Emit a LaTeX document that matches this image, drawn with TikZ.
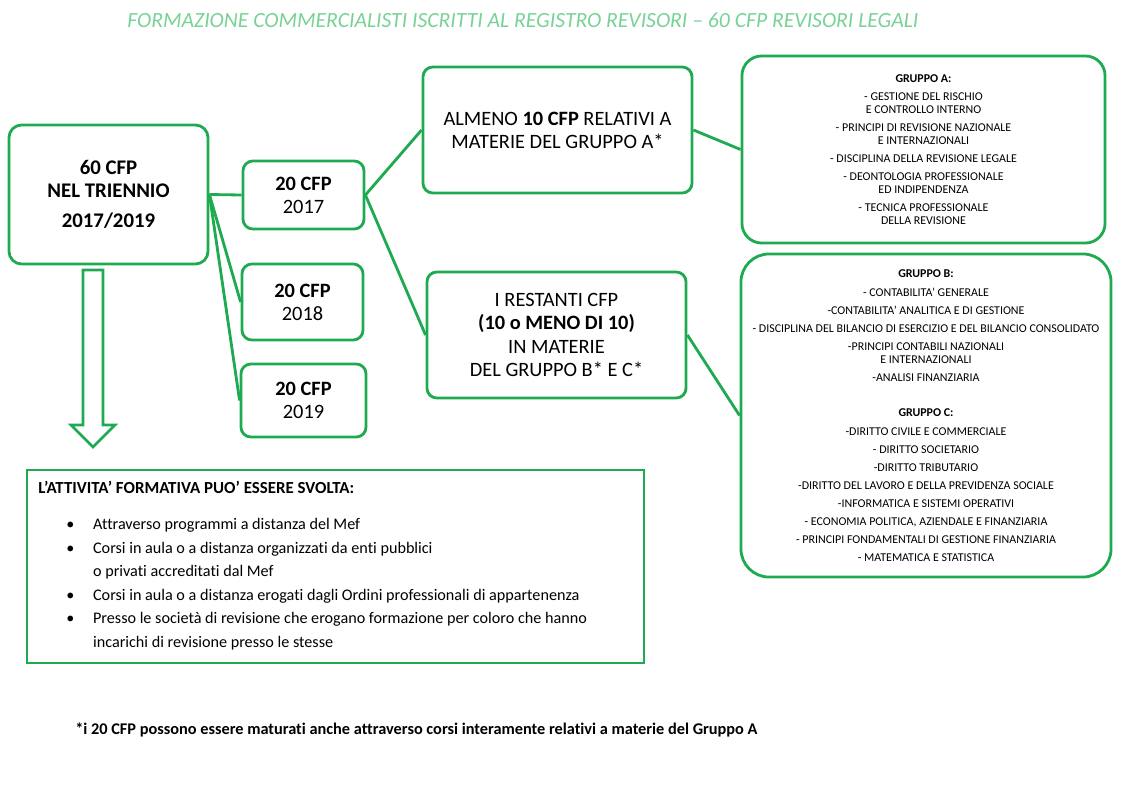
\documentclass[tikz,border=0pt]{standalone}
\usepackage{fontspec}
\setmainfont{Carlito}[Ligatures={TeX,NoCommon}]
\usetikzlibrary{positioning}

\definecolor{verde}{RGB}{30,170,80}
\definecolor{menta}{RGB}{120,210,150}

\begin{document}
\begin{tikzpicture}[
    x=0.025cm, y=-0.025cm,
    box/.style={rectangle, draw=verde, line width=2pt, rounded corners=7pt, align=center, inner sep=0pt},
    anno/.style={box, font=\fontsize{14.5}{16.5}\selectfont},
    lista/.style={box, font=\fontsize{8.5}{9.25}\selectfont},
    link/.style={draw=verde, line width=2pt}
]
\useasboundingbox (0,0) rectangle (1126,784);

% title
\node[font=\fontsize{15.4}{17}\selectfont\itshape, text=menta] (titolo) at (523,20)
    {FORMAZIONE COMMERCIALISTI ISCRITTI AL REGISTRO REVISORI -- 60 CFP REVISORI LEGALI};

% triennio
\node[box, rounded corners=9pt, minimum width=4.975cm, minimum height=3.475cm,
      font=\fontsize{14.8}{16.4}\selectfont\bfseries] (tri) at (108.5,194.5)
    {60 CFP\\ NEL TRIENNIO\\[5pt] 2017/2019};

% annual boxes
\node[anno, minimum width=3.025cm, minimum height=1.7cm] (a17) at (303.5,195)
    {\textbf{20 CFP}\\ 2017};
\node[anno, minimum width=3.025cm, minimum height=1.9cm] (a18) at (302.5,302)
    {\textbf{20 CFP}\\ 2018};
\node[anno, minimum width=3.125cm, minimum height=1.825cm] (a19) at (303.5,400.5)
    {\textbf{20 CFP}\\ 2019};

% split of the 20 CFP
\node[anno, minimum width=6.725cm, minimum height=3.15cm] (almeno) at (557.5,130)
    {ALMENO \textbf{10 CFP} RELATIVI A\\ MATERIE DEL GRUPPO A*};
\node[anno, minimum width=6.475cm, minimum height=3.15cm] (restanti) at (556.5,335)
    {I RESTANTI CFP\\ \textbf{(10 o MENO DI 10)}\\ IN MATERIE\\ DEL GRUPPO B* E C*};

% groups
\node[lista, rounded corners=14pt, minimum width=9.075cm, minimum height=4.675cm] (gruppoA) at (923.5,149.5)
    {\textbf{GRUPPO A:}\\[3.5pt]
     - GESTIONE DEL RISCHIO\\ E CONTROLLO INTERNO\\[3.5pt]
     - PRINCIPI DI REVISIONE NAZIONALE\\ E INTERNAZIONALI\\[3.5pt]
     - DISCIPLINA DELLA REVISIONE LEGALE\\[3.5pt]
     - DEONTOLOGIA PROFESSIONALE\\ ED INDIPENDENZA\\[3.5pt]
     - TECNICA PROFESSIONALE\\ DELLA REVISIONE};
\node[lista, rounded corners=20pt, minimum width=9.25cm, minimum height=8.075cm] (gruppoBC) at (926,415.5)
    {\textbf{GRUPPO B:}\\[4.5pt]
     - CONTABILITA' GENERALE\\[3.5pt]
     -CONTABILITA' ANALITICA E DI GESTIONE\\[3.5pt]
     - DISCIPLINA DEL BILANCIO DI ESERCIZIO E DEL BILANCIO CONSOLIDATO\\[3.5pt]
     -PRINCIPI CONTABILI NAZIONALI\\ E INTERNAZIONALI\\[3.5pt]
     -ANALISI FINANZIARIA\\[15.5pt]
     \textbf{GRUPPO C:}\\[4.5pt]
     -DIRITTO CIVILE E COMMERCIALE\\[3.5pt]
     - DIRITTO SOCIETARIO\\[3.5pt]
     -DIRITTO TRIBUTARIO\\[3.5pt]
     -DIRITTO DEL LAVORO E DELLA PREVIDENZA SOCIALE\\[3.5pt]
     -INFORMATICA E SISTEMI OPERATIVI\\[3.5pt]
     - ECONOMIA POLITICA, AZIENDALE E FINANZIARIA\\[3.5pt]
     - PRINCIPI FONDAMENTALI DI GESTIONE FINANZIARIA\\[3.5pt]
     - MATEMATICA E STATISTICA};

% connectors
\path[link] (tri.east) -- (a17.west);
\path[link] (tri.east) -- (a18.west);
\path[link] (tri.east) -- (a19.west);
\path[link] (a17.east) -- (almeno.west);
\path[link] (a17.east) -- (restanti.west);
\path[link] (almeno.east) -- (gruppoA.west);
\path[link] (restanti.east) -- (gruppoBC.west);

% hollow arrow down
\draw[verde, line width=2pt] (83,270) -- (103,270) -- (103,425) -- (115,425)
    -- (93,447) -- (71,425) -- (83,425) -- cycle;

% activities
\node[rectangle, draw=verde, line width=2pt, minimum width=15.425cm, minimum height=4.825cm] (attivita) at (335.5,566.5) {};
\node[anchor=north west, align=left, inner sep=0pt, font=\fontsize{11.5}{16.7}\selectfont] (elenco) at (38,481)
    {{\fontsize{12}{14}\selectfont\bfseries L’ATTIVITA’ FORMATIVA PUO’ ESSERE SVOLTA:}\\[9pt]
     \hspace*{20pt}\makebox[19pt][l]{\textbullet}Attraverso programmi a distanza del Mef\\
     \hspace*{20pt}\makebox[19pt][l]{\textbullet}Corsi in aula o a distanza organizzati da enti pubblici\\
     \hspace*{39pt}o privati accreditati dal Mef\\
     \hspace*{20pt}\makebox[19pt][l]{\textbullet}Corsi in aula o a distanza erogati dagli Ordini professionali di appartenenza\\
     \hspace*{20pt}\makebox[19pt][l]{\textbullet}Presso le società di revisione che erogano formazione per coloro che hanno\\
     \hspace*{39pt}incarichi di revisione presso le stesse};

% footnote
\node[anchor=west, inner sep=0pt, font=\fontsize{11.6}{13}\selectfont\bfseries] (nota) at (75,730)
    {*i 20 CFP possono essere maturati anche attraverso corsi interamente relativi a materie del Gruppo A};

\end{tikzpicture}
\end{document}
